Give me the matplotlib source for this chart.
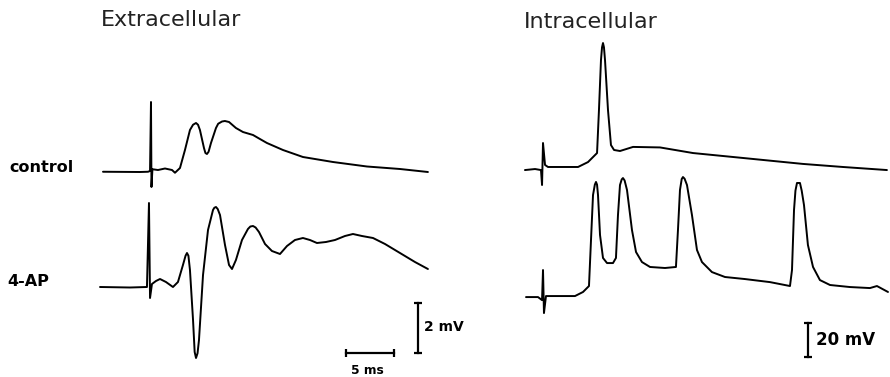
import numpy as np
import matplotlib
matplotlib.use('Agg')
import matplotlib.pyplot as plt

# extracellular field potentials (time in ms from stimulus, mV from baseline)
ext_ctrl_t = [-5.0, -1.15, -0.31, -0.1, 0.0, 0.05, 0.15, 0.73, 1.46, 2.19, 2.5, 3.02,
              3.54, 4.06, 4.38, 4.69, 4.9, 5.1, 5.52, 5.67, 5.83, 6.0, 6.25, 6.77,
              7.0, 7.4, 7.7, 8.13, 8.85, 9.58, 10.63, 11.35, 12.08, 13.75, 15.83,
              18.96, 22.5, 25.94, 28.85]
ext_ctrl_v = [0.0, -0.01, 0.0, 0.03, 2.79, -0.61, 0.1, 0.07, 0.13, 0.07, -0.04, 0.15,
              0.87, 1.67, 1.88, 1.95, 1.88, 1.67, 0.95, 0.75, 0.71, 0.8, 1.15, 1.75,
              1.92, 2.01, 2.03, 1.99, 1.75, 1.59, 1.47, 1.31, 1.15, 0.87, 0.59,
              0.39, 0.21, 0.11, -0.01]

ext_4ap_t = [-5.31, -2.19, -0.42, -0.21, -0.1, 0.1, 0.52, 0.94, 1.56, 2.29, 2.81, 3.33,
             3.6, 3.75, 3.9, 4.06, 4.38, 4.55, 4.69, 4.85, 5.0, 5.42, 5.94, 6.46,
             6.6, 6.77, 6.95, 7.19, 7.71, 8.13, 8.44, 8.85, 9.48, 10.1, 10.35, 10.63,
             10.9, 11.25, 11.88, 12.6, 13.44, 14.17, 15.0, 15.83, 16.56, 17.29, 18.23,
             19.17, 20.21, 21.04, 21.98, 23.13, 24.38, 25.94, 27.5, 28.85]
ext_4ap_v = [0.0, -0.02, 0.0, 3.36, -0.44, 0.12, 0.24, 0.32, 0.2, 0.0, 0.2, 0.88,
             1.25, 1.36, 1.25, 0.68, -1.32, -2.6, -2.84, -2.65, -2.12, 0.48, 2.28, 3.08,
             3.17, 3.2, 3.12, 2.88, 1.68, 0.88, 0.72, 1.08, 1.88, 2.32, 2.42, 2.44,
             2.38, 2.2, 1.72, 1.44, 1.32, 1.64, 1.88, 1.96, 1.88, 1.76, 1.8,
             1.88, 2.04, 2.12, 2.04, 1.96, 1.72, 1.36, 1.0, 0.72]

# intracellular recordings
int_ctrl_t = [-1.88, -0.83, -0.21, -0.1, 0.0, 0.21, 0.52, 1.77, 3.65, 4.69, 5.63, 5.83,
              6.04, 6.15, 6.25, 6.35, 6.46, 6.77, 7.08, 7.4, 8.02, 9.38, 12.19, 15.63,
              20.83, 27.08, 31.25, 35.83]
int_ctrl_v = [-1.2, -0.6, -1.2, -10.0, 14.7, 1.8, 0.6, 0.6, 0.6, 3.5, 8.8, 34.1,
              63.5, 71.0, 73.5, 71.0, 63.5, 34.1, 13.5, 10.6, 10.0, 12.4, 12.1, 8.8,
              5.9, 2.4, 0.6, -1.2]

int_4ap_t = [-1.77, -0.52, -0.1, 0.0, 0.1, 0.31, 0.73, 3.33, 4.17, 4.79, 5.0, 5.21,
             5.4, 5.52, 5.63, 5.73, 5.94, 6.25, 6.67, 7.29, 7.6, 7.81, 8.02, 8.2,
             8.33, 8.5, 8.75, 9.27, 9.69, 10.31, 11.15, 12.71, 13.85, 14.06, 14.27,
             14.45, 14.58, 14.75, 15.0, 15.52, 16.04, 16.56, 17.6, 18.96, 21.04,
             23.65, 25.73, 25.94, 26.15, 26.3, 26.46, 26.77, 26.95, 27.19, 27.6,
             28.13, 28.85, 29.9, 31.98, 34.06, 34.79, 35.94]
int_4ap_v = [-0.6, -0.6, -2.4, 15.3, -10.0, 0.0, 0.0, 0.0, 2.4, 5.9, 32.9, 59.4,
             65.5, 67.1, 65.5, 59.4, 35.9, 22.4, 19.4, 19.4, 22.4, 47.6, 65.3, 68.6,
             69.4, 68.0, 62.4, 38.8, 25.9, 20.0, 17.1, 16.5, 17.1, 38.8, 62.4,
             68.8, 70.0, 69.0, 65.3, 47.6, 27.1, 20.0, 14.1, 11.2, 10.0,
             8.2, 5.9, 15.3, 50.6, 62.0, 66.5, 66.5, 62.0, 53.5, 30.0,
             17.1, 9.4, 6.5, 5.3, 4.7, 5.9, 2.4]

ext_offset_4ap = -4.61   # mV shift of lower trace
int_offset_4ap = -75.3

fig = plt.figure(figsize=(8.9, 3.77), dpi=100)
axL = fig.add_axes([0, 0, 0.5, 1])
axR = fig.add_axes([0.5, 0, 0.5, 1])
for ax in (axL, axR):
    ax.axis('off')

lw = 1.4
style = dict(color='black', lw=lw, solid_joinstyle='round', solid_capstyle='round')
axL.plot(ext_ctrl_t, ext_ctrl_v, **style)
axL.plot(ext_4ap_t, np.array(ext_4ap_v) + ext_offset_4ap, **style)
axL.set_xlim(-15.73, 30.63)
axL.set_ylim(-8.21, 6.87)

axR.plot(int_ctrl_t, int_ctrl_v, **style)
axR.plot(int_4ap_t, np.array(int_4ap_v) + int_offset_4ap, **style)
axR.set_xlim(-10.21, 36.15)
axR.set_ylim(-122.9, 98.8)

# scale bars
bar = dict(color='black', lw=1.6)
cap = dict(ls='none', ms=6, mew=1.6, color='black')
axL.plot([27.8, 27.8], [-5.25, -7.25], **bar)
axL.plot([27.8, 27.8], [-5.25, -7.25], marker='_', **cap)
axL.plot([20.3, 25.3], [-7.25, -7.25], **bar)
axL.plot([20.3, 25.3], [-7.25, -7.25], marker='|', **cap)
axR.plot([27.6, 27.6], [-91.2, -111.2], **bar)
axR.plot([27.6, 27.6], [-91.2, -111.2], marker='_', **cap)

W, H = 890, 377
def put(x, y, s, **kw):
    fig.text(x / W, 1 - y / H, s, va='center', **kw)

put(101, 20, 'Extracellular', fontsize=16, color='#222222')
put(524, 22, 'Intracellular', fontsize=16, color='#222222')
put(9, 167, 'control', fontsize=11.5, fontweight='bold')
put(7, 282, '4-AP', fontsize=11.5, fontweight='bold')
put(424, 327, '2 mV', fontsize=10, fontweight='bold')
put(351, 370, '5 ms', fontsize=8.8, fontweight='bold')
put(816, 340, '20 mV', fontsize=12, fontweight='bold')

fig.savefig('out.png', dpi=100, facecolor='white')
